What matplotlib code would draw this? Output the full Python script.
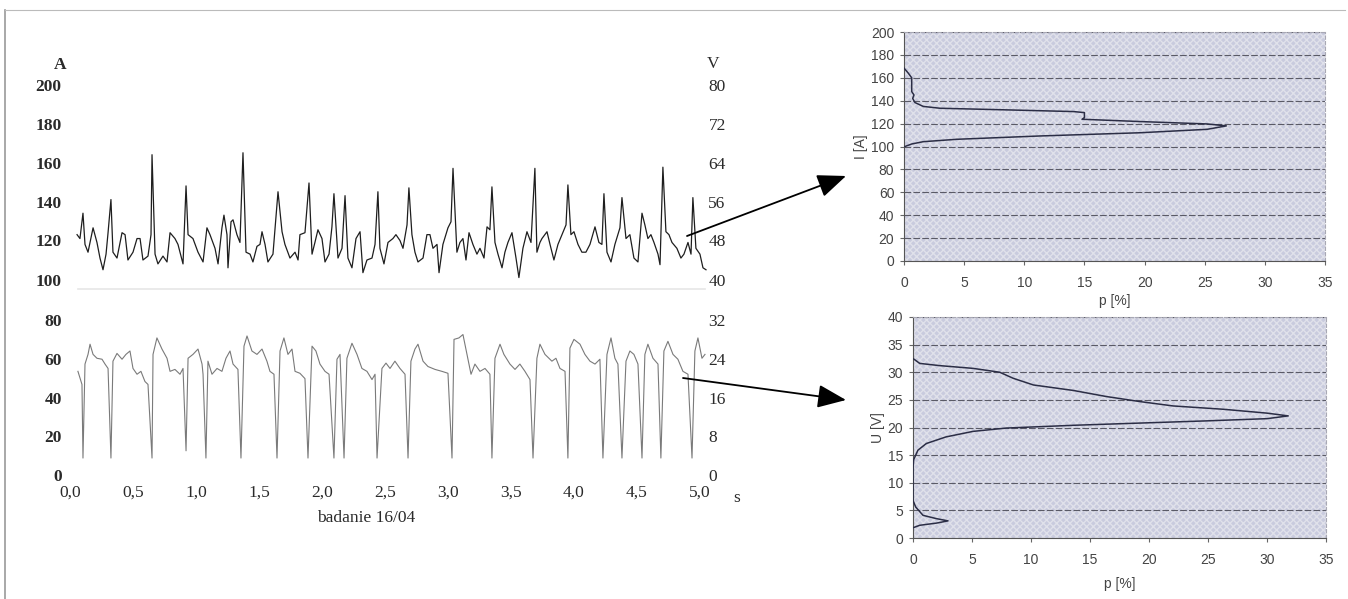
import matplotlib
matplotlib.use("Agg")
import matplotlib.pyplot as plt
from matplotlib.patches import Rectangle, FancyArrowPatch
from matplotlib.lines import Line2D

# przebieg prądu (czas w s, prąd w A)
t_I = [0.056, 0.079, 0.103, 0.119, 0.143, 0.183, 0.214, 0.238, 0.262, 0.286,
       0.302, 0.325, 0.341, 0.373, 0.413, 0.437, 0.460, 0.500, 0.532, 0.556,
       0.579, 0.619, 0.643, 0.651, 0.675, 0.698, 0.738, 0.770, 0.794, 0.833,
       0.857, 0.897, 0.921, 0.937, 0.976, 1.016, 1.056, 1.087, 1.111, 1.151,
       1.175, 1.206, 1.222, 1.246, 1.254, 1.278, 1.294, 1.325, 1.349, 1.373,
       1.397, 1.429, 1.452, 1.484, 1.508, 1.524, 1.548, 1.571, 1.611, 1.651,
       1.683, 1.706, 1.746, 1.786, 1.810, 1.825, 1.865, 1.897, 1.921, 1.944,
       1.968, 2.000, 2.024, 2.056, 2.079, 2.095, 2.127, 2.159, 2.183, 2.206,
       2.238, 2.270, 2.302, 2.325, 2.357, 2.397, 2.421, 2.444, 2.460, 2.492,
       2.524, 2.563, 2.587, 2.619, 2.643, 2.675, 2.690, 2.714, 2.738, 2.762,
       2.802, 2.833, 2.857, 2.881, 2.913, 2.929, 2.960, 3.000, 3.024, 3.040,
       3.071, 3.095, 3.119, 3.143, 3.167, 3.198, 3.230, 3.254, 3.286, 3.310,
       3.333, 3.349, 3.373, 3.397, 3.429, 3.452, 3.476, 3.508, 3.540, 3.563,
       3.595, 3.627, 3.659, 3.690, 3.706, 3.730, 3.746, 3.786, 3.810, 3.841,
       3.873, 3.905, 3.937, 3.952, 3.976, 4.000, 4.032, 4.063, 4.095, 4.127,
       4.167, 4.198, 4.222, 4.238, 4.262, 4.294, 4.325, 4.365, 4.381, 4.413,
       4.444, 4.476, 4.508, 4.540, 4.563, 4.587, 4.611, 4.635, 4.667, 4.683,
       4.706, 4.730, 4.754, 4.778, 4.817, 4.849, 4.873, 4.905, 4.929, 4.944,
       4.968, 5.000, 5.024, 5.048]
I_val = [123, 121, 134, 118, 114, 126.5, 119, 111, 105, 113,
         124, 141, 114, 111, 124, 123, 110, 114, 121, 121,
         110, 112, 123, 164, 113, 108, 112, 109, 124, 121,
         118, 108, 148, 123, 121, 114, 109, 126.5, 123, 116,
         108, 126.5, 133, 123, 106, 129.6, 130.6, 123, 119, 165,
         114, 113, 109, 117, 118, 124.5, 118, 109, 113, 145,
         124.5, 118, 111, 114, 110, 123, 124, 149.5, 113, 119,
         125.5, 121, 109, 113, 127, 144, 111, 116, 143, 111,
         106, 121, 124.5, 103.5, 110, 111, 118, 145, 116, 108,
         119, 121, 123, 120, 116, 128, 147, 123, 114, 109,
         111, 123, 123, 116, 118, 103.5, 118, 126.5, 129.6, 157,
         114, 119, 121, 110, 124, 118, 113, 116, 111, 127,
         125.5, 147.5, 119, 113, 106, 114, 119, 124, 111, 101,
         116, 124.5, 119, 157, 114, 119, 121, 124.5, 118, 110,
         118, 123, 128, 148.5, 123, 124.5, 118, 114, 114, 118,
         127, 119, 118, 144, 114, 109, 118, 126.5, 142, 121,
         123, 111, 109, 134, 128, 121, 123, 119, 113, 107.6,
         157.6, 124.5, 123, 119, 116, 111, 113, 119, 113, 142,
         116, 113, 106, 105]

# przebieg napięcia (czas w s, napięcie w V)
t_U = [0.063, 0.095, 0.103, 0.119, 0.143, 0.159, 0.183, 0.214, 0.254, 0.278,
       0.302, 0.325, 0.341, 0.373, 0.413, 0.444, 0.476, 0.500, 0.532, 0.563,
       0.595, 0.619, 0.651, 0.659, 0.690, 0.730, 0.770, 0.794, 0.833, 0.873,
       0.897, 0.921, 0.937, 0.976, 1.016, 1.048, 1.056, 1.079, 1.095, 1.127,
       1.167, 1.206, 1.238, 1.270, 1.294, 1.333, 1.357, 1.381, 1.405, 1.444,
       1.484, 1.524, 1.563, 1.587, 1.619, 1.643, 1.667, 1.698, 1.730, 1.762,
       1.786, 1.825, 1.865, 1.889, 1.921, 1.952, 1.984, 2.024, 2.056, 2.095,
       2.119, 2.143, 2.175, 2.198, 2.238, 2.278, 2.317, 2.357, 2.397, 2.421,
       2.437, 2.476, 2.508, 2.540, 2.579, 2.619, 2.659, 2.683, 2.706, 2.738,
       2.762, 2.802, 2.841, 2.897, 2.952, 3.000, 3.032, 3.048, 3.087, 3.119,
       3.151, 3.183, 3.214, 3.254, 3.294, 3.333, 3.349, 3.373, 3.413, 3.444,
       3.492, 3.532, 3.571, 3.611, 3.651, 3.675, 3.706, 3.730, 3.770, 3.825,
       3.857, 3.889, 3.929, 3.952, 3.968, 4.000, 4.048, 4.087, 4.127, 4.167,
       4.206, 4.230, 4.262, 4.294, 4.325, 4.349, 4.381, 4.413, 4.444, 4.476,
       4.508, 4.540, 4.563, 4.587, 4.627, 4.667, 4.690, 4.714, 4.746, 4.786,
       4.825, 4.865, 4.905, 4.937, 4.960, 4.984, 5.016, 5.040]
U_val = [21.4, 18.7, 3.5, 22.9, 24.9, 27, 24.9, 24.1, 23.9, 22.9,
         22, 3.5, 23.5, 25.1, 23.9, 24.9, 25.6, 22, 20.8, 21.4,
         19.3, 18.7, 3.5, 24.9, 28.3, 26, 24.1, 21.4, 21.8, 20.8,
         22, 5, 24.1, 24.9, 26, 22.9, 20.8, 3.5, 23.5, 20.8,
         22, 21.4, 24.1, 25.6, 22.9, 21.8, 3.5, 26.6, 28.7, 25.6,
         24.9, 26, 23.5, 21.4, 20.8, 3.5, 25.6, 28.3, 24.9, 26,
         21.4, 21, 19.9, 3.5, 26.6, 25.6, 22.9, 21.4, 20.8, 3.5,
         23.9, 24.9, 3.5, 24.1, 27.2, 24.9, 22, 21.4, 19.7, 20.8,
         3.5, 22, 23.1, 22, 23.5, 22, 20.8, 3.5, 23.5, 26,
         27, 23.5, 22.4, 21.8, 21.4, 21, 3.5, 28, 28.3, 29,
         24.9, 20.8, 22.9, 21.4, 22, 20.8, 3.5, 24.1, 27, 24.9,
         22.9, 21.8, 22.9, 21.4, 19.7, 3.5, 24.1, 27, 24.9, 23.5,
         24.1, 22, 21.4, 3.5, 26.2, 28, 27, 24.9, 23.5, 22.9,
         23.9, 3.5, 24.9, 28.3, 24.1, 22.9, 3.5, 23.5, 25.6, 24.9,
         22.9, 3.5, 24.9, 27, 24.1, 22.9, 3.5, 25.6, 27.6, 24.9,
         23.9, 21.4, 20.8, 3.5, 25.6, 28.3, 24.1, 24.9]

# rozkłady prawdopodobieństwa
hist_I_p = [0, 0.36, 0.64, 0.64, 0.83, 0.72, 0.91, 1.6, 3.0, 8.5,
            14.1, 15.0, 15.0, 14.8, 19.6, 25.2, 26.8, 25.2, 19.6, 11.3,
            4.4, 1.6, 0.64, 0.08]
hist_I = [168.5, 164, 160, 148, 145, 142, 138.4, 135, 133.4, 132,
          130.5, 129.6, 125.3, 123.8, 121.8, 119.7, 118, 115, 112, 109.2,
          106.3, 104.2, 102.2, 100]
hist_U_p = [0.06, 0.57, 2.26, 5.1, 7.35, 8.5, 10.2, 13.6, 16.4, 19.2,
            22.05, 26.3, 30.0, 31.8, 30.0, 24.9, 19.2, 13.6, 7.9, 5.1,
            2.8, 1.13, 0.42, 0.06, 0, 0, 0.23, 0.85, 2.0, 2.97,
            2.0, 0.57, 0.06]
hist_U = [32.4, 31.6, 31.2, 30.7, 30.0, 28.9, 27.7, 26.7, 25.6, 24.7,
          23.9, 23.3, 22.6, 22.1, 21.6, 21.2, 20.8, 20.4, 19.9, 19.3,
          18.3, 17.1, 15.9, 14.2, 12.9, 6.8, 5.6, 4.1, 3.5, 3.1,
          2.7, 2.3, 1.9]

t_ticks = [0, 0.5, 1.0, 1.5, 2.0, 2.5, 3.0, 3.5, 4.0, 4.5, 5.0]
t_labels = ["0,0", "0,5", "1,0", "1,5", "2,0", "2,5", "3,0", "3,5", "4,0", "4,5", "5,0"]

SERIF = "Liberation Serif"
SANS = "Liberation Sans"
txt = "#2a2a2a"

fig = plt.figure(figsize=(13.48, 5.99), dpi=100)
W, H = 1348, 599

def box(x0, y0, x1, y1):
    # piksele obrazka -> ułamki figury
    return [x0 / W, 1 - y1 / H, (x1 - x0) / W, (y1 - y0) / H]

# ramka skanu
fig.add_artist(Line2D([5 / W, 5 / W], [0, 1 - 10 / H], transform=fig.transFigure,
                      color="#999999", lw=1.2))
fig.add_artist(Line2D([5 / W, 1345 / W], [1 - 10 / H, 1 - 10 / H], transform=fig.transFigure,
                      color="#bbbbbb", lw=0.8))
fig.add_artist(Line2D([78 / W, 705 / W], [1 - 289 / H, 1 - 289 / H], transform=fig.transFigure,
                      color="#e6e6e6", lw=1.2))

# --- górny wykres: prąd ---
ax1 = fig.add_axes(box(70, 84.5, 707, 279.5))
ax1.plot(t_I, I_val, color="#1e1e1e", lw=0.9)
ax1.set_xlim(0, 5.056)
ax1.set_ylim(100, 200)
ax1.set_yticks(range(100, 201, 20))
ax1.set_xticks([])
ax1r = ax1.twinx()
ax1r.set_ylim(40, 80)
ax1r.set_yticks(range(40, 81, 8))

# --- dolny wykres: napięcie ---
ax2 = fig.add_axes(box(70, 320, 707, 475))
ax2.set_xlim(0, 5.056)
ax2.set_ylim(0, 80)
ax2.set_yticks(range(0, 81, 20))
ax2.set_xticks(t_ticks)
ax2.set_xticklabels(t_labels)
ax2r = ax2.twinx()
ax2r.plot(t_U, U_val, color="#7a7a7a", lw=0.8)
ax2r.set_ylim(0, 32)
ax2r.set_yticks(range(0, 33, 8))

for a in (ax1, ax1r, ax2, ax2r):
    for s in a.spines.values():
        s.set_visible(False)
    a.set_facecolor("none")
    a.tick_params(length=0, colors=txt)
for a in (ax1, ax2):
    a.tick_params(axis="y", pad=6)
    for lab in a.get_yticklabels():
        lab.set_fontfamily(SERIF)
        lab.set_fontweight("bold")
        lab.set_fontsize(12.5)
for a in (ax1r, ax2r):
    a.tick_params(axis="y", pad=1)
    for lab in a.get_yticklabels():
        lab.set_fontfamily(SERIF)
        lab.set_fontsize(12.5)
ax2.tick_params(axis="x", pad=7)
for lab in ax2.get_xticklabels():
    lab.set_fontfamily(SERIF)
    lab.set_fontsize(12.5)

ax2.set_xlabel("badanie 16/04", fontfamily=SERIF, fontsize=12.5, color=txt)
ax2.xaxis.set_label_coords(0.465, -0.225)
ax1.text(-0.015, 1.10, "A", transform=ax1.transAxes, ha="center", va="center",
         fontfamily=SERIF, fontweight="bold", fontsize=12.5, color=txt)
ax1.text(1.01, 1.105, "V", transform=ax1.transAxes, ha="center", va="center",
         fontfamily=SERIF, fontsize=12.5, color=txt)
ax2.text(1.047, -0.15, "s", transform=ax2.transAxes, ha="center", va="center",
         fontfamily=SERIF, fontsize=12.5, color=txt)

# --- histogramy ---
def hist_axes(rect, p, v, ymax, ystep, ylabel):
    ax = fig.add_axes(rect)
    ax.set_facecolor("#c9cbde")
    ax.add_patch(Rectangle((0, 0), 1, 1, transform=ax.transAxes, facecolor="none",
                           edgecolor="#e0e1ea", hatch="xxxxx", lw=0, zorder=0.1))
    ax.plot(p, v, color="#2b2d45", lw=1.1, zorder=3)
    ax.set_xlim(0, 35)
    ax.set_ylim(0, ymax)
    ax.set_xticks(range(0, 36, 5))
    ax.set_yticks(range(0, ymax + 1, ystep))
    ax.grid(axis="y", color="#5a5a66", lw=0.8, linestyle=(0, (6, 2)))
    ax.set_axisbelow(True)
    for s in ("top", "right"):
        ax.spines[s].set_color("#a8a8b4")
        ax.spines[s].set_linestyle((0, (3, 2)))
    for s in ("left", "bottom"):
        ax.spines[s].set_color("#555555")
    ax.tick_params(length=3, width=0.8, color="#666666", labelcolor="#444444",
                   labelsize=10)
    ax.tick_params(axis="x", pad=8)
    ax.tick_params(axis="y", pad=4)
    for lab in ax.get_xticklabels() + ax.get_yticklabels():
        lab.set_fontfamily(SANS)
    ax.set_xlabel("p [%]", fontfamily=SANS, fontsize=10, color="#444444", labelpad=3)
    ax.set_ylabel(ylabel, fontfamily=SANS, fontsize=10, color="#444444", labelpad=2)
    return ax

hI = hist_axes(box(904, 32, 1325, 261), hist_I_p, hist_I, 200, 20, "I [A]")
hU = hist_axes(box(913, 317, 1326, 538), hist_U_p, hist_U, 40, 5, "U [V]")
hU.xaxis.labelpad = 7

# strzałki
arrow = dict(arrowstyle="-|>,head_length=1.1,head_width=0.45", color="black", lw=1.3,
             mutation_scale=16, shrinkA=0, shrinkB=0)
fig.add_artist(FancyArrowPatch((687, H - 236), (846, H - 176), transform=None, **arrow))
fig.add_artist(FancyArrowPatch((683, H - 378), (846, H - 400), transform=None, **arrow))

fig.savefig("out.png", dpi=100)
